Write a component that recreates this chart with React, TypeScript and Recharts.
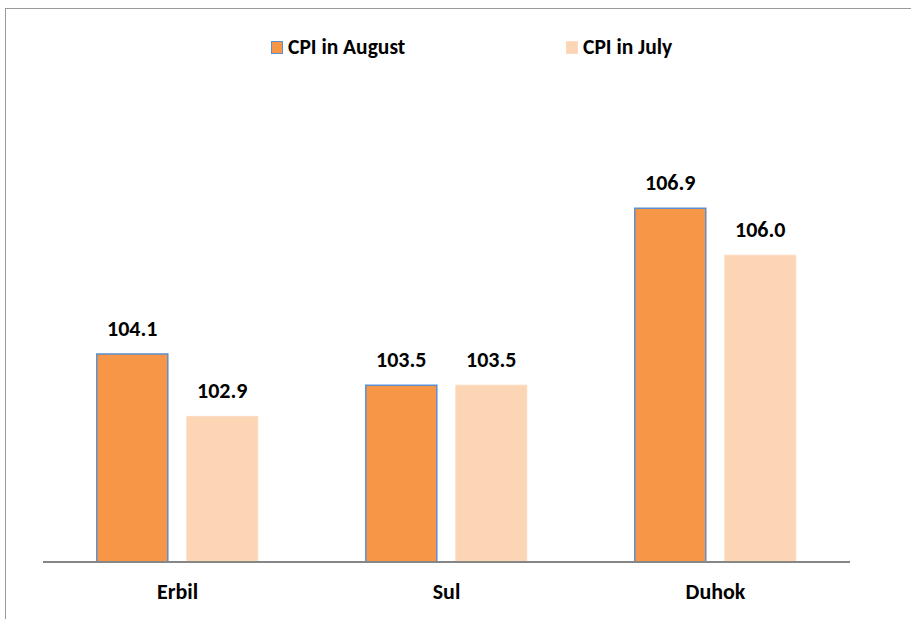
import { BarChart, Bar, XAxis, YAxis, LabelList } from 'recharts';

const regions = ['Erbil', 'Sul', 'Duhok'];
const cpiAugust = [104.1, 103.5, 106.9];
const cpiJuly = [102.9, 103.5, 106.0];

const FONT = 'Calibri, Carlito, Lato, "Open Sans", sans-serif';

const rows = regions.map((name, i) => ({
  name,
  august: cpiAugust[i],
  july: cpiJuly[i],
}));

const legendItems = [
  { label: 'CPI in August', fill: '#F79646', stroke: '#5B8FD0', x: 271 },
  { label: 'CPI in July', fill: '#FCD5B5', stroke: '#FDDCC4', x: 566 },
];

const ChartLegend = () => (
  <>
    {legendItems.map((item) => (
      <div
        key={item.label}
        style={{
          position: 'absolute',
          left: item.x,
          top: 34,
          height: 26,
          display: 'flex',
          alignItems: 'center',
          gap: 5,
          fontFamily: FONT,
          fontWeight: 700,
          fontSize: 21.5,
          color: '#000',
          whiteSpace: 'nowrap',
        }}
      >
        <div
          style={{
            width: 10,
            height: 11,
            background: item.fill,
            border: `1.5px solid ${item.stroke}`,
          }}
        />
        <span>{item.label}</span>
      </div>
    ))}
  </>
);

const labelStyle = { fill: '#000', fontFamily: FONT, fontWeight: 700, fontSize: 22 };

export default function App() {
  return (
    <div style={{ position: 'absolute', left: 0, top: 0, width: 911, height: 619, overflow: 'hidden', background: '#fff' }}>
      <div
        style={{
          position: 'absolute',
          left: 5,
          top: 8,
          width: 940,
          height: 660,
          border: '1.5px solid #9A9A9A',
        }}
      />
      <ChartLegend />
      <BarChart
        width={911}
        height={619}
        data={rows}
        margin={{ top: 148, right: 61, bottom: 0, left: 43 }}
        barCategoryGap="20%"
        barGap={19}
        style={{ position: 'absolute', left: 0, top: 0 }}
      >
        <YAxis hide domain={[100.1, 108.06]} allowDataOverflow />
        <XAxis
          dataKey="name"
          height={57}
          axisLine={{ stroke: '#868686', strokeWidth: 2 }}
          tickLine={false}
          tick={{ fill: '#000', fontFamily: FONT, fontWeight: 700, fontSize: 22 }}
          dy={13}
        />
        <Bar dataKey="august" fill="#F79646" stroke="#5B8FD0" strokeWidth={1.5} isAnimationActive={false}>
          <LabelList
            dataKey="august"
            position="top"
            offset={18}
            formatter={(v: number) => v.toFixed(1)}
            style={labelStyle}
          />
        </Bar>
        <Bar dataKey="july" fill="#FCD5B5" stroke="#FDDCC4" strokeWidth={1} isAnimationActive={false}>
          <LabelList
            dataKey="july"
            position="top"
            offset={18}
            formatter={(v: number) => v.toFixed(1)}
            style={labelStyle}
          />
        </Bar>
      </BarChart>
    </div>
  );
}
